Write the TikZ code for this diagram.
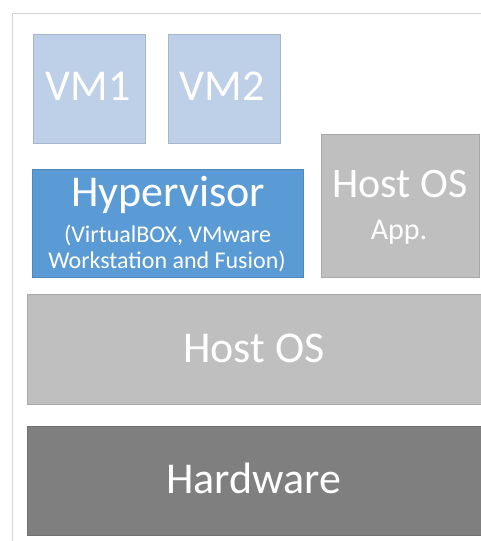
\documentclass[tikz,border=0pt]{standalone}
\usepackage{fontspec}
\setmainfont{Carlito}
\usetikzlibrary{positioning}
\definecolor{vmblue}{HTML}{BDD0E8}
\definecolor{hypblue}{HTML}{5B9BD5}
\definecolor{osgray}{HTML}{BFBFBF}
\definecolor{hwgray}{HTML}{7F7F7F}
\definecolor{framegray}{HTML}{D4D4D4}
\tikzset{
  layer/.style={draw=#1!88!black, fill=#1, text=white, inner sep=0pt,
    line width=0.6pt, anchor=north west},
  lbl/.style={text=white, inner sep=0pt, anchor=base},
  big/.style={font=\fontsize{44}{50}\selectfont}
}
\begin{document}
\begin{tikzpicture}[x=1pt,y=-1pt]
  \useasboundingbox (0,0) rectangle (481,541);
  % frame
  \draw[framegray, line width=1pt] (12.5,541) -- (12.5,13) -- (481,13);

  % virtual machines
  \node[layer=vmblue, minimum width=112pt, minimum height=109pt] (vm1) at (33,34) {};
  \node[layer=vmblue, minimum width=112pt, minimum height=109pt, right=22pt of vm1.north east, anchor=north west] (vm2) {};
  \node[lbl, big] (vm1lbl) at (88,100) {VM1};
  \node[lbl, big] (vm2lbl) at (222,100) {VM2};

  % hypervisor and host application
  \node[layer=hypblue, minimum width=271pt, minimum height=108pt] (hyp) at (32,169) {};
  \node[lbl, big] (hyplbl) at (168,206) {Hypervisor};
  \node[lbl, font=\fontsize{24}{24}\selectfont] (hypsub1) at (167.5,242) {(VirtualBOX, VMware};
  \node[lbl, font=\fontsize{24}{24}\selectfont] (hypsub2) at (167,268) {Workstation and Fusion)};

  \node[layer=osgray, minimum width=158pt, minimum height=143pt] (app) at (321,134) {};
  \node[lbl, font=\fontsize{42}{42}\selectfont] (applbl) at (400,197) {Host OS};
  \node[lbl, font=\fontsize{30}{30}\selectfont] (appsub) at (399,239) {App.};

  % host os and hardware
  \node[layer=osgray, minimum width=470pt, minimum height=110pt] (hostos) at (27,294) {};
  \node[lbl, big] (hostoslbl) at (254,362) {Host OS};
  \node[layer=hwgray, minimum width=470pt, minimum height=109pt] (hw) at (27,426) {};
  \node[lbl, big] (hwlbl) at (254,493) {Hardware};
\end{tikzpicture}
\end{document}
